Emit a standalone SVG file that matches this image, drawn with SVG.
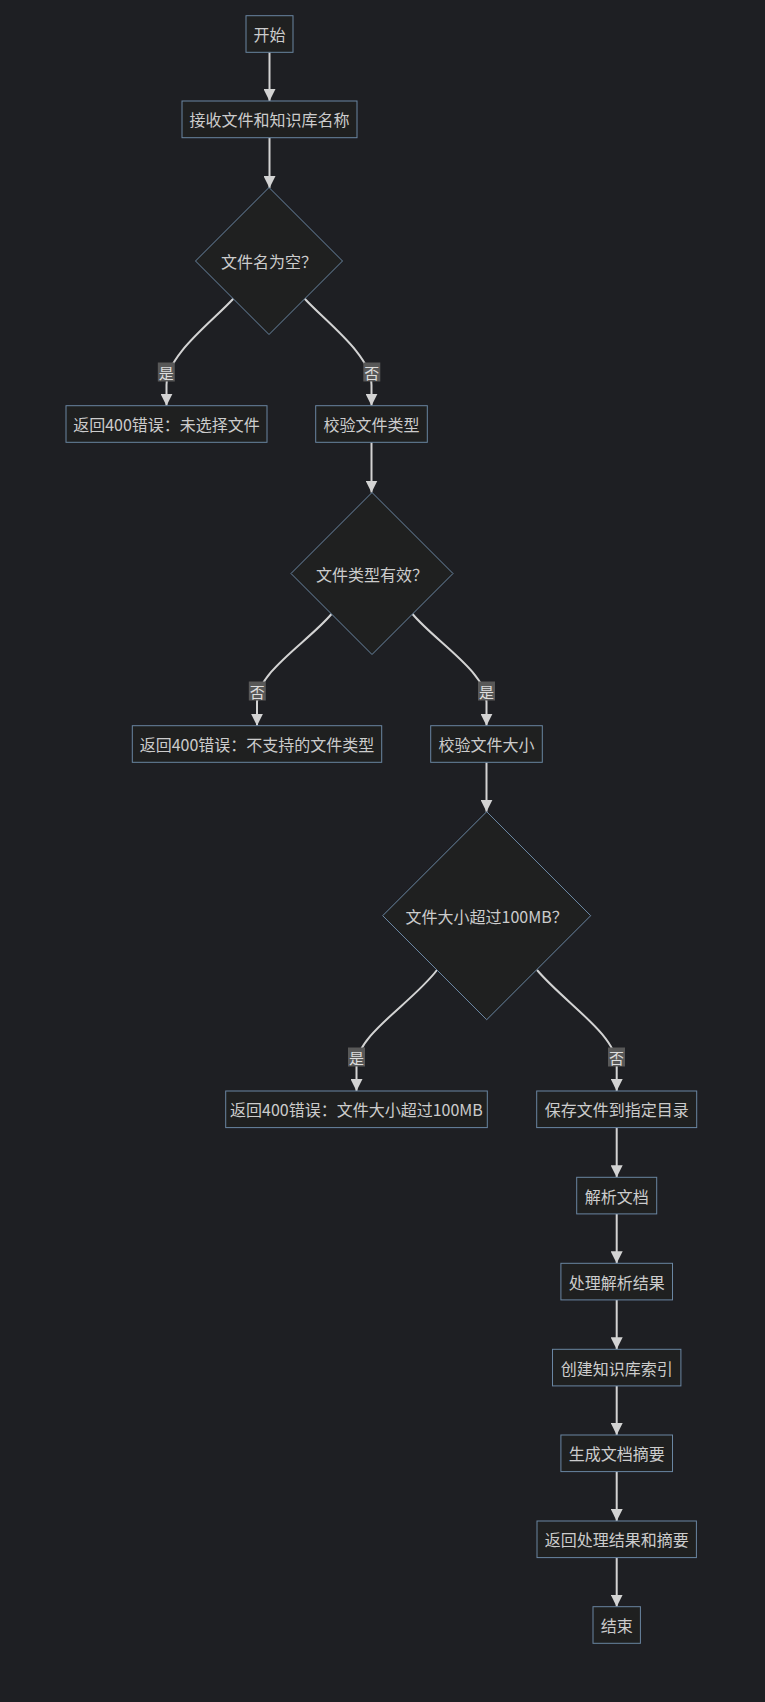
<svg xmlns="http://www.w3.org/2000/svg" width="765" height="1702" viewBox="0 0 765 1702">
<defs>
<style>
.bg{fill:#1e1f23}
.node rect,.node polygon{fill:#1f2020;stroke:#6a86a2;stroke-width:1}
.node text{fill:#cccccc;font-family:"Noto Sans CJK SC","Noto Sans",sans-serif;font-size:16px;text-anchor:middle;dominant-baseline:central}
.edge{fill:none;stroke:#d3d3d3;stroke-width:2}
.lbl rect{fill:#585858}
.lbl text{fill:#dddddd;font-family:"Noto Sans CJK SC","Noto Sans",sans-serif;font-size:15px;text-anchor:middle;dominant-baseline:central}
</style>
<marker id="arrow" viewBox="0 0 12 12" refX="12" refY="6" markerWidth="12" markerHeight="12" markerUnits="userSpaceOnUse" orient="auto">
<path d="M0,0 L12,6 L0,12 z" fill="#d3d3d3"/>
</marker>
</defs>
<rect class="bg" x="0" y="0" width="765" height="1702"/>

<g id="connectors">
<path class="edge" d="M269.5,52.3 L269.5,101" marker-end="url(#arrow)"/>
<path class="edge" d="M269.5,137.7 L269.5,188" marker-end="url(#arrow)"/>
<path class="edge" d="M233.5,298.5 C212,322 166.5,355 166.5,385 L166.5,405.7" marker-end="url(#arrow)"/>
<path class="edge" d="M304.5,298.5 C326,322 371.5,355 371.5,385 L371.5,405.7" marker-end="url(#arrow)"/>
<path class="edge" d="M371.5,442.3 L371.5,492.5" marker-end="url(#arrow)"/>
<path class="edge" d="M331.5,614 C308,642 257,672 257,702 L257,725.7" marker-end="url(#arrow)"/>
<path class="edge" d="M412.5,614 C436,642 486.5,672 486.5,702 L486.5,725.7" marker-end="url(#arrow)"/>
<path class="edge" d="M486.5,762.3 L486.5,811.7" marker-end="url(#arrow)"/>
<path class="edge" d="M437,970 C412,1003 356.5,1035 356.5,1065 L356.5,1091" marker-end="url(#arrow)"/>
<path class="edge" d="M537,970 C565,1003 616.7,1035 616.7,1065 L616.7,1091" marker-end="url(#arrow)"/>
<path class="edge" d="M616.7,1127.6 L616.7,1177.3" marker-end="url(#arrow)"/>
<path class="edge" d="M616.7,1213.9 L616.7,1263.3" marker-end="url(#arrow)"/>
<path class="edge" d="M616.7,1299.9 L616.7,1349.3" marker-end="url(#arrow)"/>
<path class="edge" d="M616.7,1385.9 L616.7,1435" marker-end="url(#arrow)"/>
<path class="edge" d="M616.7,1471.6 L616.7,1521" marker-end="url(#arrow)"/>
<path class="edge" d="M616.7,1557.6 L616.7,1606.7" marker-end="url(#arrow)"/>
<g class="lbl"><rect x="157.8" y="362.5" width="17" height="19"/><text x="166.3" y="372">是</text></g>
<g class="lbl"><rect x="363.3" y="362.5" width="17" height="19"/><text x="371.8" y="372">否</text></g>
<g class="lbl"><rect x="248.8" y="681.5" width="17" height="19"/><text x="257.3" y="691">否</text></g>
<g class="lbl"><rect x="478" y="681.5" width="17" height="19"/><text x="486.5" y="691">是</text></g>
<g class="lbl"><rect x="348" y="1047.5" width="17" height="19"/><text x="356.5" y="1057">是</text></g>
<g class="lbl"><rect x="608" y="1047.5" width="17" height="19"/><text x="616.5" y="1057">否</text></g>
</g>

<g id="start" class="node"><rect x="246" y="15.7" width="47" height="36.6"/><text x="269.5" y="34">开始</text></g>
<g id="receive" class="node"><rect x="182" y="101" width="175" height="36.7"/><text x="269.5" y="119.3">接收文件和知识库名称</text></g>
<g id="checkName" class="node"><polygon points="269,187.5 342.5,261 269,334.5 195.5,261"/><text x="269" y="261">文件名为空？</text></g>
<g id="errNoFile" class="node"><rect x="66" y="405.7" width="201" height="36.6"/><text x="166.5" y="424">返回400错误：未选择文件</text></g>
<g id="validateType" class="node"><rect x="315.7" y="405.7" width="111.6" height="36.6"/><text x="371.5" y="424">校验文件类型</text></g>
<g id="typeValid" class="node"><polygon points="372,492.5 453,573.5 372,654.5 291,573.5"/><text x="372" y="573.5">文件类型有效？</text></g>
<g id="errType" class="node"><rect x="132.3" y="725.7" width="249.4" height="36.6"/><text x="257" y="744">返回400错误：不支持的文件类型</text></g>
<g id="validateSize" class="node"><rect x="430.7" y="725.7" width="111.6" height="36.6"/><text x="486.5" y="744">校验文件大小</text></g>
<g id="sizeCheck" class="node"><polygon points="486.7,811.7 590.7,915.7 486.7,1019.7 382.7,915.7"/><text x="486.7" y="915.7">文件大小超过100MB？</text></g>
<g id="errSize" class="node"><rect x="225.7" y="1091" width="261.6" height="36.6"/><text x="356.5" y="1109.3">返回400错误：文件大小超过100MB</text></g>
<g id="save" class="node"><rect x="536.7" y="1091" width="160" height="36.6"/><text x="616.7" y="1109.3">保存文件到指定目录</text></g>
<g id="parse" class="node"><rect x="576.7" y="1177.3" width="80" height="36.6"/><text x="616.7" y="1195.6">解析文档</text></g>
<g id="process" class="node"><rect x="560.9" y="1263.3" width="111.6" height="36.6"/><text x="616.7" y="1281.6">处理解析结果</text></g>
<g id="index" class="node"><rect x="552.5" y="1349.3" width="128.4" height="36.6"/><text x="616.7" y="1367.6">创建知识库索引</text></g>
<g id="summary" class="node"><rect x="560.9" y="1435" width="111.6" height="36.6"/><text x="616.7" y="1453.3">生成文档摘要</text></g>
<g id="return" class="node"><rect x="537" y="1521" width="159.4" height="36.6"/><text x="616.7" y="1539.3">返回处理结果和摘要</text></g>
<g id="end" class="node"><rect x="593" y="1606.7" width="47.4" height="36.6"/><text x="616.7" y="1625">结束</text></g>
</svg>
